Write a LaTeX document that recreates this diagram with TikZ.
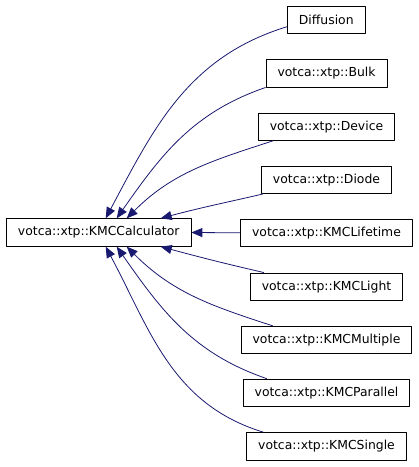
\documentclass[tikz,border=0pt]{standalone}
\usepackage{fontspec}
\setmainfont{DejaVu Sans}
\usetikzlibrary{arrows.meta}
\begin{document}
\begin{tikzpicture}
% Inheritance graph of votca::xtp::KMCCalculator
\def\unitsz{1pt}
\providecommand{\kmcEdgeColor}{rgb,255:red,25;green,25;blue,112}
\providecommand{\kmcBoxColor}{black}
\providecommand{\kmcLineWidth}{0.8pt}
\begin{scope}[x=\unitsz, y=\unitsz, line join=round,
  classbox/.style={draw=\kmcBoxColor, line width=\kmcLineWidth, fill=white,
    minimum height=27.5pt, inner xsep=11.5pt, inner ysep=0pt,
    font=\fontsize{12.4}{14}\selectfont},
  inheritedge/.style={draw=\kmcEdgeColor, line width=\kmcLineWidth,
    -{Triangle[length=11pt,width=9pt]}}]
  \useasboundingbox (0,0) rectangle (419,-467);
  % Base class
  \node[classbox] (calc) at (98.7,-232.5) {votca::xtp::KMCCalculator};
  % Derived classes
  \node[classbox] (diffusion) at (326.3,-19.7) {Diffusion};
  \node[classbox] (bulk) at (326.5,-73.3) {votca::xtp::Bulk};
  \node[classbox] (device) at (326.5,-126.7) {votca::xtp::Device};
  \node[classbox] (diode) at (326.5,-179.8) {votca::xtp::Diode};
  \node[classbox] (lifetime) at (326.5,-232.8) {votca::xtp::KMCLifetime};
  \node[classbox] (light) at (326.5,-286.7) {votca::xtp::KMCLight};
  \node[classbox] (multiple) at (326.5,-340) {votca::xtp::KMCMultiple};
  \node[classbox] (parallel) at (326.5,-392.8) {votca::xtp::KMCParallel};
  \node[classbox] (single) at (326.5,-446.3) {votca::xtp::KMCSingle};
  % Edges into the top of the base class
  \draw[inheritedge] ([yshift=-7pt]diffusion.west) to[out=197,in=62] ([xshift=7pt]calc.north);
  \draw[inheritedge] (bulk.south west) to[out=199,in=55] ([xshift=18pt]calc.north);
  \draw[inheritedge] ([xshift=15pt]device.south west) to[out=198,in=45] ([xshift=28pt]calc.north);
  \draw[inheritedge] ([xshift=2pt]diode.south west) to[out=193,in=15] ([xshift=62pt]calc.north);
  % Straight edge
  \draw[inheritedge] (lifetime.west) -- (calc.east);
  % Edges into the bottom of the base class
  \draw[inheritedge] ([xshift=14pt]light.north west) to[out=167,in=-15] ([xshift=62pt]calc.south);
  \draw[inheritedge] ([xshift=32pt]multiple.north west) to[out=162,in=-45] ([xshift=28pt]calc.south);
  \draw[inheritedge] ([xshift=24pt]parallel.north west) to[out=161,in=-55] ([xshift=18pt]calc.south);
  \draw[inheritedge] ([xshift=17pt]single.north west) to[out=163,in=-62] ([xshift=7pt]calc.south);
\end{scope}
\end{tikzpicture}
\end{document}
